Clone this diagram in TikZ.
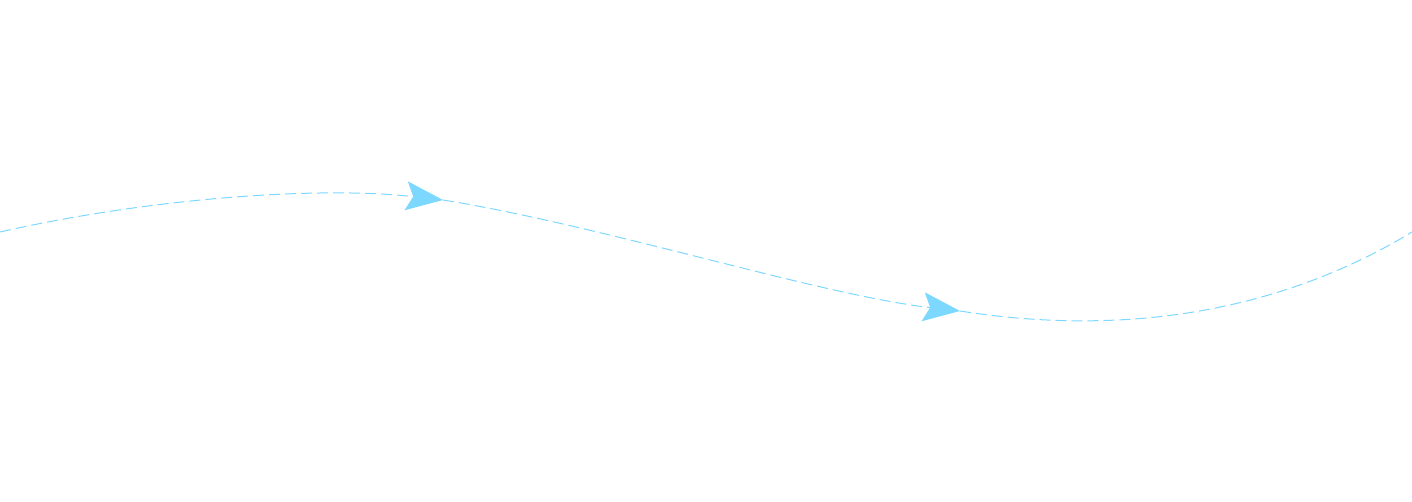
\documentclass[tikz,border=0pt]{standalone}
\usepackage{xcolor}
\usepackage{tikz}
\usetikzlibrary{arrows.meta}
\definecolor{flowblue}{HTML}{7DD8FF}

\begin{document}
\begin{tikzpicture}[
    x=0.5pt, y=-0.5pt,
    flow_line/.style={draw=flowblue, line width=0.5pt, dash pattern=on 5.5pt off 2.5pt},
    flow_arrow/.style={flow_line, -{Stealth[fill=flowblue, length=18.5pt, width=14.5pt, inset=3.5pt]}}
]
    \useasboundingbox (0,0) rectangle (1412,502);

    % Wave points
    \coordinate (wave_start) at (0,232);
    \coordinate (tip_one) at (443,200);
    \coordinate (tip_two) at (960,311);
    \coordinate (wave_end) at (1412,232);

    % Dashed wave with arrows
    \draw[flow_arrow] (wave_start) .. controls (150,198) and (320,186) .. (tip_one);
    \draw[flow_arrow] (tip_one) .. controls (600,225) and (820,295) .. (tip_two);
    \draw[flow_line] (tip_two) .. controls (1080,330) and (1250,330) .. (wave_end);
\end{tikzpicture}
\end{document}
